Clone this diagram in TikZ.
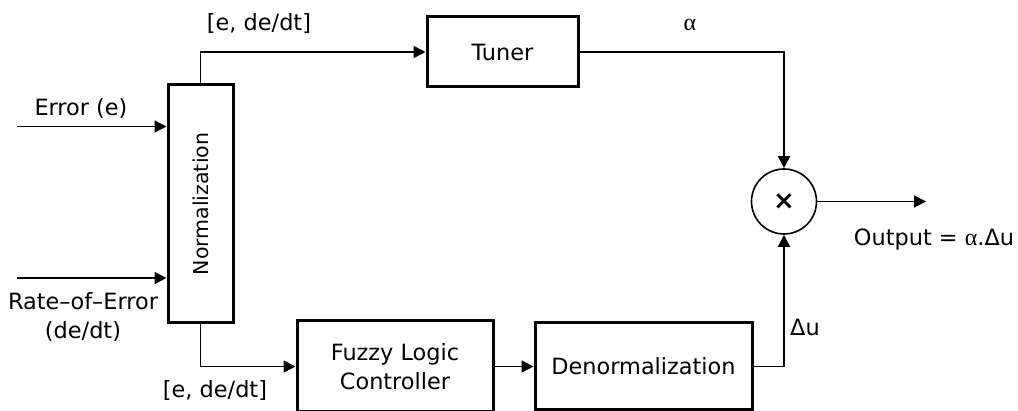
\documentclass[tikz,border=0pt]{standalone}
\usepackage{fontspec}
\setmainfont{DejaVu Sans}
\newfontfamily\greekfont{Liberation Serif}
\usepackage{graphicx}
\usetikzlibrary{arrows.meta}

\begin{document}
\begin{tikzpicture}[x=1pt,y=-1pt,
	font=\fontsize{22.4}{29}\selectfont,
	block/.style={draw,line width=3pt,inner sep=0pt,align=center},
	link/.style={line width=1.6pt,-{Triangle[length=12pt,width=12pt]}},
	lbl/.style={inner sep=0pt,align=center}]
	\useasboundingbox (0,0) rectangle (1018,411);
	% blocks
	\node[block,minimum width=65pt,minimum height=238pt] (norm) at (200.5,204) {\rotatebox{90}{\fontsize{20.5}{24}\selectfont Normalization}};
	\node[block,minimum width=151pt,minimum height=70pt] (tuner) at (502.5,52) {Tuner};
	\node[block,minimum width=196pt,minimum height=91pt] (flc) at (395,366.5) {Fuzzy Logic\\Controller};
	\node[block,minimum width=217pt,minimum height=87pt] (denorm) at (643.5,366.5) {Denormalization};
	\node[draw,circle,line width=1.6pt,minimum size=65pt,inner sep=0pt] (mult) at (784,201.5) {\fontsize{26}{26}\selectfont\bfseries ×};
	% free ends
	\coordinate (errin) at (17,126.5);
	\coordinate (ratein) at (17,278);
	\coordinate (outend) at (926,201.5);
	% connectors
	\draw[link] (errin) -- (norm.west |- errin);
	\draw[link] (ratein) -- (norm.west |- ratein);
	\draw[link] (norm.north) |- (tuner.west);
	\draw[link] (norm.south) |- (flc.west);
	\draw[link] (flc.east) -- (denorm.west);
	\draw[link] (tuner.east) -| (mult.north);
	\draw[link] (denorm.east) -| (mult.south);
	\draw[link] (mult.east) -- (outend);
	% labels
	\node[lbl] (errlbl) at (81,108) {Error (e)};
	\node[lbl] (ratelbl) at (83,317) {Rate–of–Error\\(de/dt)};
	\node[lbl] (toplbl) at (259,23) {[e, de/dt]};
	\node[lbl] (botlbl) at (215,390) {[e, de/dt]};
	\node[lbl] (alphalbl) at (690,25) {{\greekfont\fontsize{24}{24}\selectfont α}};
	\node[lbl] (dulbl) at (805,327) {Δu};
	\node[lbl] (outlbl) at (934,240) {Output = {\greekfont\fontsize{24}{24}\selectfont α}.Δu};
\end{tikzpicture}
\end{document}
